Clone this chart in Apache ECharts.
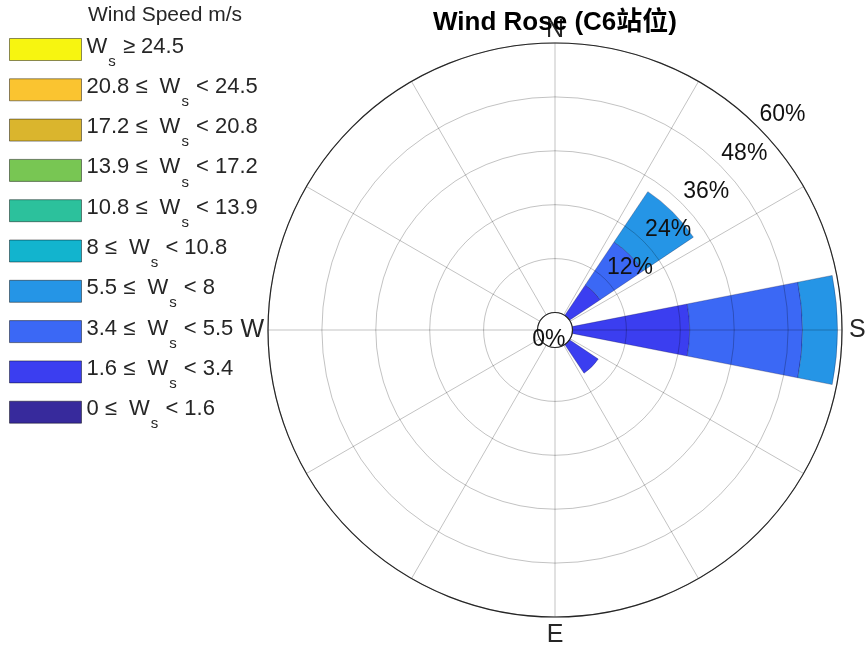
<!DOCTYPE html>
<html>
<head>
<meta charset="utf-8">
<script src="https://cdn.jsdelivr.net/npm/echarts@6/dist/echarts.min.js"></script>
<style>
  html, body { margin: 0; padding: 0; background: #ffffff; }
  #chart { width: 867px; height: 650px; }
</style>
</head>
<body>
<div id="chart"></div>
<script>
// Direction sectors, degrees clockwise from the top of the rose (22.5° each)
const sectorAngles = ['0', '22.5', '45', '67.5', '90', '112.5', '135', '157.5',
                      '180', '202.5', '225', '247.5', '270', '292.5', '315', '337.5'];

// Compass letters shown on the angle axis
const compassLabels = { 0: 'N', 90: 'S', 180: 'E', 270: 'W' };

// Radial rings, % of time
const radialTicks = [0, 12, 24, 36, 48, 60];
const radialLabelAngle = 45;

// Wind speed classes (m/s), lowest first
const speedLabels = [
  '0 ≤ Ws < 1.6', '1.6 ≤ Ws < 3.4', '3.4 ≤ Ws < 5.5', '5.5 ≤ Ws < 8',
  '8 ≤ Ws < 10.8', '10.8 ≤ Ws < 13.9', '13.9 ≤ Ws < 17.2',
  '17.2 ≤ Ws < 20.8', '20.8 ≤ Ws < 24.5', 'Ws ≥ 24.5'
];
const speedColors = [
  '#372a9c', '#3b3ef0', '#3b68f5', '#2595e6', '#12b4ce',
  '#2cc19c', '#78c653', '#dab52d', '#fac430', '#f7f510'
];

// Frequency (%) per sector for each speed class
const freq_0_1_6     = [0, 0, 0,    0, 0,    0, 0,   0, 0, 0, 0, 0, 0, 0, 0, 0];
const freq_1_6_3_4   = [0, 0, 8.2,  0, 26.1, 0, 7.7, 0, 0, 0, 0, 0, 0, 0, 0, 0];
const freq_3_4_5_5   = [0, 0, 11.5, 0, 25.1, 0, 0,   0, 0, 0, 0, 0, 0, 0, 0, 0];
const freq_5_5_8     = [0, 0, 13.5, 0, 7.8,  0, 0,   0, 0, 0, 0, 0, 0, 0, 0, 0];
const freq_8_10_8    = [0, 0, 0,    0, 0,    0, 0,   0, 0, 0, 0, 0, 0, 0, 0, 0];
const freq_10_8_13_9 = [0, 0, 0,    0, 0,    0, 0,   0, 0, 0, 0, 0, 0, 0, 0, 0];
const freq_13_9_17_2 = [0, 0, 0,    0, 0,    0, 0,   0, 0, 0, 0, 0, 0, 0, 0, 0];
const freq_17_2_20_8 = [0, 0, 0,    0, 0,    0, 0,   0, 0, 0, 0, 0, 0, 0, 0, 0];
const freq_20_8_24_5 = [0, 0, 0,    0, 0,    0, 0,   0, 0, 0, 0, 0, 0, 0, 0, 0];
const freq_24_5_up   = [0, 0, 0,    0, 0,    0, 0,   0, 0, 0, 0, 0, 0, 0, 0, 0];

const speedFreqs = [freq_0_1_6, freq_1_6_3_4, freq_3_4_5_5, freq_5_5_8, freq_8_10_8,
                    freq_10_8_13_9, freq_13_9_17_2, freq_17_2_20_8, freq_20_8_24_5, freq_24_5_up];

const FONT = "'Liberation Sans', Arial, Helvetica, sans-serif";
const TEXT = '#262626';
const GRID = 'rgba(0,0,0,0.24)';
const CENTER = [555, 330];
const RADII = [17.5, 287];

const chart = echarts.init(document.getElementById('chart'), null, { renderer: 'canvas' });

// Legend label: "W" followed by a subscript "s"
function legendText(name) {
  const parts = name.split('Ws');
  const pre = parts[0] ? '{m|' + parts[0] + '}{w|W}' : '{m|W}';
  return pre + '{s|s}{m|' + parts[1] + '}';
}

// Compass letter, nudged away from the rim on its own side
function compassText(v) {
  const c = compassLabels[v];
  return c ? '{' + c + '|' + c + '}' : '';
}
const compassBase = { fontFamily: FONT, fontSize: 25, color: TEXT, lineHeight: 25 };

const barSeries = speedLabels.map((name, i) => ({
  type: 'bar',
  name: name,
  coordinateSystem: 'polar',
  polarIndex: 1,
  stack: 'rose',
  barCategoryGap: '1%',
  z: 2,
  itemStyle: {
    color: speedColors[i],
    borderColor: 'rgba(10, 10, 60, 0.35)',
    borderWidth: 0.8
  },
  emphasis: { disabled: true },
  data: speedFreqs[i].map(v => (v === 0 ? null : v))
}));

const ringLabels = {
  type: 'scatter',
  coordinateSystem: 'polar',
  polarIndex: 0,
  symbolSize: 1,
  silent: true,
  z: 6,
  itemStyle: { color: 'rgba(0,0,0,0)' },
  label: {
    show: true,
    position: [0, 0],
    align: 'left',
    verticalAlign: 'bottom',
    offset: [2, 0],
    fontFamily: FONT,
    fontSize: 23,
    fontWeight: 'normal',
    color: '#111111',
    opacity: 1,
    textBorderWidth: 0,
    formatter: p => p.value[0] + '%'
  },
  data: radialTicks.map(t => t === 0
    ? { value: [t, radialLabelAngle], label: { align: 'center', verticalAlign: 'middle', offset: [-18, 23] } }
    : { value: [t, radialLabelAngle] })
};

chart.setOption({
  animation: false,
  backgroundColor: '#ffffff',
  title: [
    {
      text: 'Wind Rose (C6站位)',
      left: 555,
      textAlign: 'center',
      top: 10,
      padding: 0,
      textStyle: {
        fontFamily: "'Liberation Sans', Arial, 'Noto Sans CJK SC', sans-serif",
        fontSize: 26,
        fontWeight: 'bold',
        color: '#000000'
      }
    },
    {
      text: 'Wind Speed m/s',
      left: 88,
      top: 5,
      padding: 0,
      textStyle: { fontFamily: FONT, fontSize: 21, fontWeight: 'normal', color: TEXT }
    }
  ],
  legend: {
    orient: 'vertical',
    left: 9,
    top: 30,
    padding: 0,
    itemGap: 1.3,
    itemWidth: 72,
    itemHeight: 22,
    icon: 'rect',
    selectedMode: false,
    data: speedLabels.slice().reverse(),
    itemStyle: { borderColor: 'rgba(0,0,0,0.45)', borderWidth: 1 },
    formatter: legendText,
    textStyle: {
      fontFamily: FONT,
      color: TEXT,
      rich: {
        m: { fontFamily: FONT, fontSize: 22, color: TEXT, lineHeight: 25, padding: [0, 0, 6, 0] },
        w: { fontFamily: FONT, fontSize: 22, color: TEXT, lineHeight: 25, padding: [0, 0, 6, 6] },
        s: { fontFamily: FONT, fontSize: 15, color: TEXT, lineHeight: 15, padding: [24, 1, 0, 1] }
      }
    }
  },
  polar: [
    { center: CENTER, radius: RADII },
    { center: CENTER, radius: RADII }
  ],
  angleAxis: [
    {
      polarIndex: 0,
      type: 'value',
      min: 0,
      max: 360,
      interval: 30,
      startAngle: 90,
      clockwise: true,
      z: 3,
      axisLine: { show: true, lineStyle: { color: '#262626', width: 1.2 } },
      axisTick: { show: false },
      axisLabel: {
        show: true,
        margin: 0,
        formatter: compassText,
        rich: {
          N: Object.assign({ padding: [0, 0, 0, 0] }, compassBase),
          S: Object.assign({ padding: [0, 0, 0, 7] }, compassBase),
          E: Object.assign({ padding: [11, 0, 0, 0] }, compassBase),
          W: Object.assign({ padding: [0, 4, 0, 0] }, compassBase)
        }
      },
      splitLine: { show: true, lineStyle: { color: GRID, width: 1 } }
    },
    {
      polarIndex: 1,
      type: 'category',
      data: sectorAngles,
      startAngle: 101.25,
      clockwise: true,
      show: false
    }
  ],
  radiusAxis: [
    {
      polarIndex: 0,
      type: 'value',
      min: 0,
      max: 60,
      interval: 12,
      z: 3,
      axisLine: { show: false },
      axisTick: { show: false },
      axisLabel: { show: false },
      splitLine: { show: true, lineStyle: { color: GRID, width: 1 } }
    },
    {
      polarIndex: 1,
      type: 'value',
      min: 0,
      max: 60,
      show: false
    }
  ],
  series: barSeries.concat([ringLabels])
});
</script>
</body>
</html>
